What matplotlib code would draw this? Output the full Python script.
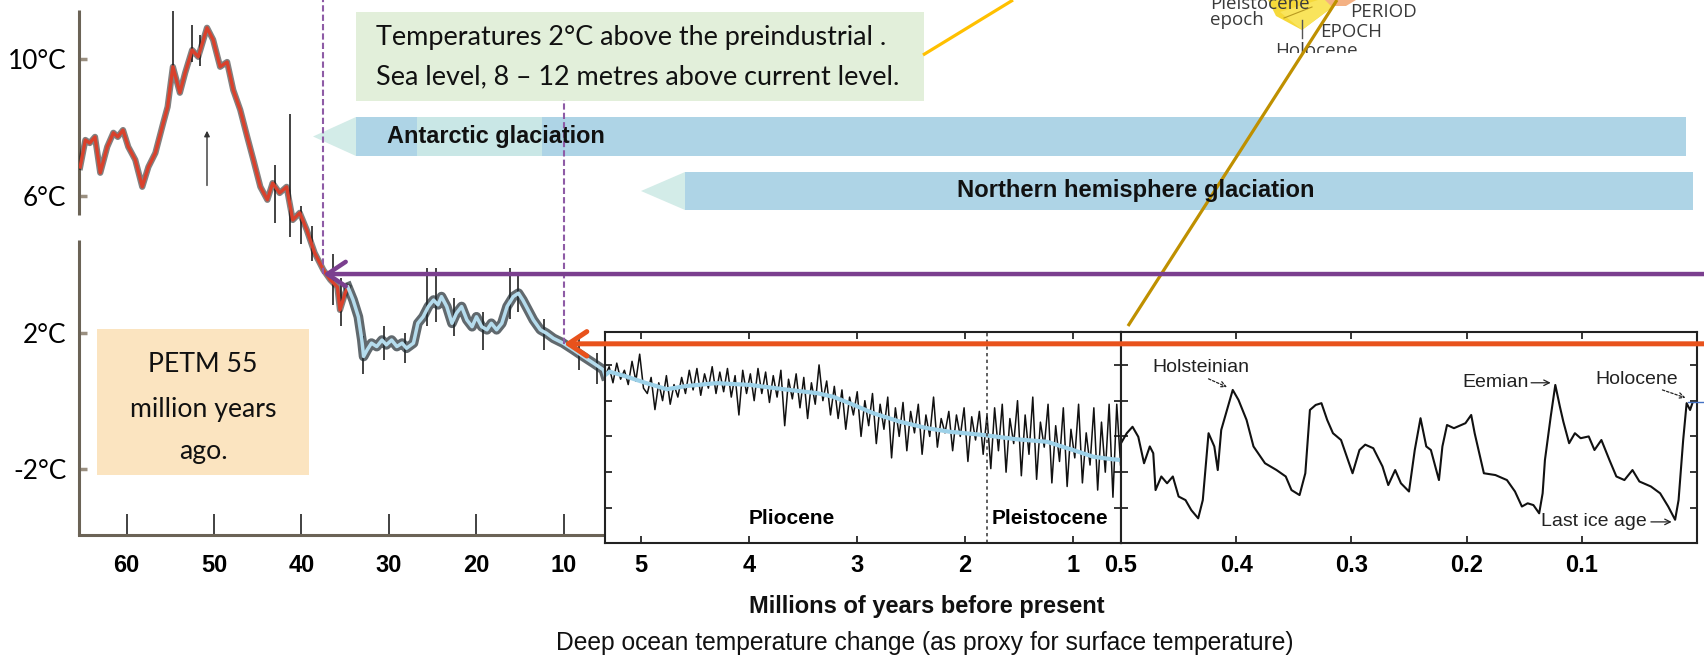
import numpy as np
import matplotlib
matplotlib.use('Agg')
import matplotlib.pyplot as plt
from matplotlib.patches import Rectangle, Polygon
from matplotlib.transforms import blended_transform_factory as blend

W, H = 1704, 663

# ---- values ----
# Cenozoic record, 65 -> 35 Ma (red part), deg C
red_ma = [65.3, 64.7, 64.2, 63.6, 63.0, 62.2, 61.5, 61.0, 60.4, 59.8, 59.0, 58.2, 57.5, 56.7, 55.8,
          55.3, 54.7, 53.9, 53.3, 52.5, 51.8, 50.8, 50.1, 49.3, 48.5, 47.8, 47.0, 46.2, 45.5, 44.7,
          43.9, 43.3, 42.5, 41.7, 41.0, 40.2, 39.4, 38.5, 37.5, 36.7, 35.9, 35.6, 35.0, 34.7]
red_t = [6.84, 7.63, 7.54, 7.72, 6.67, 7.43, 7.84, 7.72, 7.92, 7.43, 7.05, 6.26, 6.84, 7.25, 8.13,
         8.60, 9.77, 9.01, 9.59, 10.26, 10.06, 10.91, 10.56, 9.77, 9.91, 9.09, 8.51, 7.72, 7.05, 6.26,
         5.88, 6.37, 6.08, 6.26, 5.29, 5.50, 5.00, 4.33, 3.83, 3.54, 3.33, 2.66, 3.16, 3.33]
# 35 -> 5 Ma (light blue part)
blue_ma = [34.7, 34.1, 33.5, 33.1, 32.9, 32.5, 32.0, 31.4, 30.8, 30.3, 29.7, 29.1, 28.5, 28.0, 27.2,
           26.7, 26.1, 25.5, 24.9, 24.4, 24.0, 23.4, 22.8, 22.3, 21.7, 21.1, 20.5, 20.0, 19.4, 18.8,
           18.3, 17.7, 17.1, 16.5, 15.8, 15.2, 14.7, 14.1, 13.5, 12.7, 12.0, 11.2, 10.1, 8.9, 7.8,
           6.6, 5.5, 5.3]
blue_t = [3.33, 2.95, 2.46, 1.78, 1.30, 1.49, 1.69, 1.59, 1.78, 1.64, 1.78, 1.59, 1.69, 1.54, 1.69,
          2.27, 2.46, 2.76, 2.95, 2.81, 3.05, 2.76, 2.27, 2.56, 2.76, 2.37, 2.17, 2.46, 2.17, 2.08,
          2.27, 2.08, 2.27, 2.76, 3.05, 3.15, 2.95, 2.66, 2.37, 2.08, 1.98, 1.83, 1.69, 1.49, 1.30,
          1.10, 0.91, 0.75]
# black spikes of the noisy record
spike_ma = [54.7, 52.5, 51.6, 43.0, 41.3, 40.0, 38.8, 36.4, 35.5, 33.0, 30.6, 28.2, 25.6, 24.6,
            22.6, 19.2, 16.2, 15.3, 12.3, 8.3, 6.2]
spike_lo = [9.8, 9.9, 9.8, 5.2, 4.8, 4.6, 4.1, 2.8, 2.2, 0.8, 1.2, 1.1, 2.2, 2.3,
            1.9, 1.5, 2.4, 2.6, 1.5, 0.9, 0.5]
spike_hi = [11.4, 11.0, 10.7, 6.9, 8.4, 5.7, 5.1, 4.3, 3.6, 1.9, 2.2, 2.0, 3.9, 3.9,
            3.0, 2.6, 3.9, 3.7, 2.4, 1.8, 1.4]

main_ticks = [60, 50, 40, 30, 20, 10]
temp_ticks = [10, 6, 2, -2]
temp_labels = ['10°C', '6°C', '2°C', '-2°C']

# Pliocene / Pleistocene panel (5.3 -> 0.56 Ma), noisy record and smooth fit
mid_noise = [3.7, 3.95, 3.5, 4.05, 3.6, 3.85, 3.45, 4.1, 3.55, 4.3, 3.35,
             3.2, 3.65, 2.75, 3.5, 3.0, 3.7, 2.9, 3.45, 3.1, 3.65,
             3.2, 3.85, 3.3, 3.9, 3.15, 3.75, 3.35, 3.95, 3.2, 3.8,
             3.25, 3.9, 3.1, 3.7, 2.6, 3.85, 3.2, 3.75, 3.0, 3.9,
             3.2, 3.8, 2.95, 3.7, 3.1, 3.85, 2.3, 3.6, 3.05, 3.75,
             2.8, 3.65, 2.5, 3.5, 2.9, 4.0, 3.0, 3.55, 2.6, 3.4,
             2.5, 3.3, 2.2, 3.1, 2.6, 3.25, 2.0, 3.0, 2.3, 3.2,
             1.8, 2.9, 2.2, 3.1, 1.4, 2.8, 2.0, 2.95, 1.6, 2.7,
             2.1, 2.9, 1.5, 2.6, 2.0, 3.1, 1.7, 2.5, 2.1, 2.7,
             1.6, 2.6, 2.0, 2.8, 1.3, 2.55, 1.9, 2.7, 1.5, 2.6,
             1.1, 2.8, 1.6, 2.9, 1.0, 2.5, 1.8, 3.0, 0.9, 2.6,
             1.5, 3.1, 0.8, 2.4, 1.7, 2.9, 0.7, 2.3, 1.3, 2.8,
             0.6, 2.2, 1.4, 2.9, 0.7, 2.1, 1.2, 2.8, 0.5, 2.4,
             1.0, 2.9, 0.3, 2.9, 1.2]
mid_noise_start, mid_noise_end = 5.33, 0.56
mid_ma = [5.33, 5.29, 5.13, 4.95, 4.76, 4.58, 4.30, 3.99, 3.68, 3.37, 3.22, 3.03, 2.85, 2.60,
          2.35, 2.14, 1.83, 1.52, 1.24, 1.00, 0.81, 0.63, 0.556]
mid_smooth = [3.72, 3.81, 3.67, 3.49, 3.32, 3.41, 3.49, 3.44, 3.32, 3.21, 3.11, 2.88, 2.65, 2.41,
              2.23, 2.13, 2.04, 1.92, 1.85, 1.62, 1.43, 1.36, 1.34]
mid_ticks = [5, 4, 3, 2, 1]
epoch_boundary = 1.8

# last 500 000 years panel
rt_ma = [0.500, 0.495, 0.490, 0.485, 0.480, 0.475, 0.472, 0.470, 0.465, 0.460,
         0.455, 0.450, 0.444, 0.439, 0.433, 0.429, 0.424, 0.419, 0.416, 0.413,
         0.408, 0.403, 0.398, 0.391, 0.385, 0.375, 0.365, 0.357, 0.352, 0.345,
         0.340, 0.336, 0.331, 0.326, 0.321, 0.316, 0.309, 0.299, 0.293, 0.288,
         0.281, 0.273, 0.268, 0.262, 0.257, 0.250, 0.245, 0.240, 0.235, 0.231,
         0.224, 0.221, 0.217, 0.211, 0.201, 0.196, 0.193, 0.185, 0.175, 0.165,
         0.158, 0.152, 0.147, 0.142, 0.137, 0.134, 0.132, 0.127, 0.123, 0.119,
         0.116, 0.111, 0.106, 0.101, 0.094, 0.089, 0.083, 0.076, 0.070, 0.063,
         0.056, 0.050, 0.040, 0.032, 0.025, 0.019, 0.016, 0.012, 0.009, 0.006, 0.004]
rt_v = [1.81, 2.09, 2.27, 1.99, 1.25, 1.72, 1.53, 0.50, 0.88, 0.69,
        0.88, 0.32, 0.22, -0.06, -0.29, 0.22, 2.09, 1.72, 1.06, 2.18,
        2.74, 3.30, 3.02, 2.46, 1.72, 1.25, 1.06, 0.88, 0.50, 0.36,
        0.97, 2.74, 2.88, 2.93, 2.46, 2.09, 1.90, 0.97, 1.62, 1.77,
        1.67, 1.16, 0.64, 1.06, 0.69, 0.46, 1.62, 2.51, 1.72, 1.62,
        0.78, 1.72, 2.32, 2.23, 2.37, 2.60, 2.09, 0.97, 0.92, 0.78,
        0.46, 0.04, 0.13, 0.08, -0.15, 0.41, 1.34, 2.55, 3.44, 2.83,
        2.41, 1.81, 2.09, 1.95, 2.00, 1.62, 1.90, 1.34, 0.88, 0.78,
        1.06, 0.74, 0.60, 0.41, 0.04, -0.33, 0.22, 1.90, 2.93, 2.74, 2.93]
rt_ticks = [0.5, 0.4, 0.3, 0.2, 0.1]

# marked points: ~2 degC warmer world, and the start of Antarctic glaciation
purple_ma, purple_t = 37.5, 3.71
orange_ma, orange_t = 10.0, 1.67

SANS = 'Liberation Sans'
CAL = 'Lato'

fig = plt.figure(figsize=(W / 100, H / 100), dpi=100)
r = fig.canvas.get_renderer()


def px_box(x0, y0, x1, y1):
    # pixel box (top-left origin) -> figure fraction
    return [x0 / W, 1 - y1 / H, (x1 - x0) / W, (y1 - y0) / H]


def fit(t, w):
    t.set_fontsize(t.get_fontsize() * w / t.get_window_extent(r).width)
    return t


# ---------------- main panel (65 -> 5 Ma) ----------------
ax = fig.add_axes(px_box(79, 10, 605, 535))
ax.set_xlim(65.43, 5.31)
ax.set_ylim(-3.92, 11.43)
for s in ('top', 'right', 'left'):
    ax.spines[s].set_visible(False)
ax.spines['bottom'].set_color('#6b6356')
ax.spines['bottom'].set_linewidth(2.2)
# left axis is broken between ~4.7 and ~5.4 degC
for lo, hi in [(-3.92, 4.71), (5.44, 11.43)]:
    ax.plot([0, 0], [lo, hi], transform=ax.get_yaxis_transform(), color='#6b6356',
            lw=2.2, clip_on=False, solid_capstyle='butt')

ax.set_xticks(main_ticks)
ax.set_xticklabels([str(t) for t in main_ticks], family=SANS, fontweight='bold', fontsize=17)
ax.tick_params(axis='x', direction='in', length=15, width=1.3, color='#333333', pad=14)

tmp = fig.text(0, 0, '10°C', family=CAL, fontsize=20)
ysize = fit(tmp, 59).get_fontsize()
tmp.remove()
ax.set_yticks(temp_ticks)
ax.set_yticklabels(temp_labels, family=CAL, fontsize=ysize)
ax.tick_params(axis='y', direction='in', length=6, width=2.5, color='#9a8f80', pad=9)

ax.vlines(spike_ma, spike_lo, spike_hi, color='#222222', lw=1.2, zorder=1)
ax.plot(red_ma, red_t, color='#1a1a1a', lw=4.5, alpha=0.55, zorder=2)
ax.plot(red_ma, red_t, color='#d9412c', lw=2.4, zorder=3)
ax.plot(blue_ma, blue_t, color='#1e2a30', lw=7, alpha=0.7, zorder=2, solid_joinstyle='round')
ax.plot(blue_ma, blue_t, color='#b5dced', lw=2.5, zorder=3)
ax.annotate('', xy=(50.8, 7.9), xytext=(50.8, 6.3),
            arrowprops=dict(arrowstyle='-|>', color='#333333', lw=1, shrinkA=0, shrinkB=0,
                            mutation_scale=8))

# ---------------- inset panels ----------------
def style_inset(a, ticks):
    for s in a.spines.values():
        s.set_color('#222222')
        s.set_linewidth(1.5)
    a.set_ylim(-0.98, 4.92)
    a.set_yticks([0, 1, 2, 3, 4])
    a.set_xticks(ticks)
    a.set_xticklabels([str(t) for t in ticks], family=SANS, fontweight='bold', fontsize=17)
    a.tick_params(direction='in', top=True, right=True, length=5, width=1.1,
                  pad=8, labelleft=False)


ax_mid = fig.add_axes(px_box(605, 332, 1121, 543))
ax_mid.set_xlim(5.333, 0.556)
style_inset(ax_mid, mid_ticks)
noise_ma = np.linspace(mid_noise_start, mid_noise_end, len(mid_noise))
ax_mid.plot(noise_ma, mid_noise, color='#111111', lw=1.1)
ax_mid.plot(mid_ma, mid_smooth, color='#9dd1e8', lw=3)
ax_mid.axvline(epoch_boundary, ls=(0, (2, 2)), color='#444444', lw=1.2)
ax_mid.text(4.0, -0.3, 'Pliocene', ha='left', va='center', fontweight='bold', fontsize=15,
            family=SANS)
ax_mid.text(1.75, -0.3, 'Pleistocene', ha='left', va='center', fontweight='bold', fontsize=15,
            family=SANS)

ax_rt = fig.add_axes(px_box(1121, 332, 1697, 543))
ax_rt.set_xlim(0.5, 0.0)
style_inset(ax_rt, rt_ticks)
ax_rt.plot(rt_ma, rt_v, color='#111111', lw=1.5)

notes = dict(fontsize=14, family=SANS, color='#222222')
ax_rt.text(0.473, 3.92, 'Holsteinian', ha='left', va='center', **notes)
ax_rt.annotate('', xy=(0.408, 3.38), xytext=(0.424, 3.61),
               arrowprops=dict(arrowstyle='->', ls=(0, (2, 1.5)), lw=0.9, color='#222222',
                               shrinkA=0, shrinkB=0))
ax_rt.text(0.146, 3.50, 'Eemian', ha='right', va='center', **notes)
ax_rt.annotate('', xy=(0.127, 3.50), xytext=(0.144, 3.50),
               arrowprops=dict(arrowstyle='->', lw=0.9, color='#222222', shrinkA=0, shrinkB=0))
ax_rt.text(0.088, 3.58, 'Holocene', ha='left', va='center', **notes)
ax_rt.annotate('', xy=(0.010, 3.08), xytext=(0.030, 3.30),
               arrowprops=dict(arrowstyle='->', ls=(0, (2, 1.5)), lw=0.9, color='#222222',
                               shrinkA=0, shrinkB=0))
ax_rt.text(0.135, -0.39, 'Last ice age', ha='left', va='center', **notes)
ax_rt.annotate('', xy=(0.022, -0.39), xytext=(0.040, -0.39),
               arrowprops=dict(arrowstyle='->', lw=0.9, color='#222222', shrinkA=0, shrinkB=0))

# ---------------- overlay: boxes, bars, arrows ----------------
ov = fig.add_axes([0, 0, 1, 1])
ov.set_xlim(0, W)
ov.set_ylim(H, 0)
ov.set_axis_off()
ov.patch.set_visible(False)
ov.set_zorder(10)

# glaciation bars
ov.add_patch(Polygon([(313, 136.5), (356, 117), (356, 156)], fc='#d3ece8', ec='none'))
ov.add_patch(Rectangle((356, 117), 1686 - 356, 39, fc='#aed4e6', ec='none'))
ov.add_patch(Rectangle((417, 117), 125, 39, fc='#c9e7e6', ec='none'))
ov.add_patch(Polygon([(641, 191), (685, 172), (685, 210)], fc='#d3ece8', ec='none'))
ov.add_patch(Rectangle((685, 172), 1693 - 685, 38, fc='#aed4e6', ec='none'))
fit(ov.text(387, 137, 'Antarctic glaciation', ha='left', va='center', fontweight='bold',
            family=SANS, fontsize=14, color='#111111'), 219)
fit(ov.text(1136, 191, 'Northern hemisphere glaciation', ha='center', va='center',
            fontweight='bold', family=SANS, fontsize=14, color='#111111'), 359)

# green note
ov.add_patch(Rectangle((356, 12), 924 - 356, 89, fc='#e2efda', ec='none'))
l2 = fit(ov.text(376, 77, 'Sea level, 8 – 12 metres above current level.', ha='left',
                 va='center', family=CAL, fontsize=17, color='#111111'), 525)
ov.text(376, 38, 'Temperatures 2°C above the preindustrial .', ha='left', va='center',
        family=CAL, fontsize=l2.get_fontsize(), color='#111111')

# PETM note
ov.add_patch(Rectangle((97, 329), 212, 146, fc='#fbe4c0', ec='none'))
m = fit(ov.text(203, 409, 'million years', ha='center', va='center', family=CAL, fontsize=18,
                color='#111111'), 146)
ov.text(203, 365, 'PETM 55', ha='center', va='center', family=CAL, fontsize=m.get_fontsize(),
        color='#111111')
ov.text(203, 452, 'ago.', ha='center', va='center', family=CAL, fontsize=m.get_fontsize(),
        color='#111111')

# connector lines
ov.plot([923, 1013], [55, 0], color='#ffc000', lw=2.3, solid_capstyle='butt')
ov.plot([1128, 1337], [326, 0], color='#bf9000', lw=2.3, solid_capstyle='butt')
ov.plot([1688, 1704], [402, 402], color='#4472c4', lw=1)

# dashed markers and arrows, tied to the main panel data
ov.plot([purple_ma, purple_ma], [purple_t, 11.8], transform=ax.transData, color='#8e5ba6',
        lw=1.5, ls=(0, (3, 1.5)))
ov.plot([orange_ma, orange_ma], [orange_t, 8.8], transform=ax.transData, color='#8e5ba6',
        lw=1.5, ls=(0, (3, 1.5)))
edge = blend(fig.transFigure, ax.transData)
ov.annotate('', xy=(purple_ma, purple_t), xycoords=ax.transData, xytext=(1.0, purple_t),
            textcoords=edge, annotation_clip=False,
            arrowprops=dict(arrowstyle='->,head_length=0.6,head_width=0.4', color='#7b3f8f',
                            lw=3.2, shrinkA=0, shrinkB=0, mutation_scale=22))
ov.annotate('', xy=(orange_ma, orange_t), xycoords=ax.transData, xytext=(1.0, orange_t),
            textcoords=edge, annotation_clip=False,
            arrowprops=dict(arrowstyle='->,head_length=0.6,head_width=0.4', color='#e8521c',
                            lw=3.6, shrinkA=0, shrinkB=0, mutation_scale=22))

# axis captions
fit(ov.text(927, 606, 'Millions of years before present', ha='center', va='center',
            fontweight='bold', family=SANS, fontsize=15, color='#111111'), 359)
fit(ov.text(925, 643, 'Deep ocean temperature change (as proxy for surface temperature)',
            ha='center', va='center', family=SANS, fontsize=16, color='#111111'), 740)

# ---------------- cut-out of the geological time chart (top right) ----------------
geo = fig.add_axes(px_box(1150, 0, 1470, 53))
geo.set_xlim(1150, 1470)
geo.set_ylim(53, 0)
geo.set_axis_off()
geo.set_zorder(9)
geo.add_patch(Polygon([(1268, 0), (1342, 0), (1302, 30), (1276, 16)], fc='#f6d93a', ec='none'))
geo.add_patch(Polygon([(1280, 12), (1318, 0), (1342, 0), (1302, 30)], fc='#f9e45c', ec='none'))
geo.add_patch(Polygon([(1325, 0), (1356, 0), (1346, 6), (1331, 6)], fc='#f4b183', ec='none'))
geo.plot([1284, 1312], [18, 7], color='#b89a20', lw=0.8)
geo.plot([1302, 1302], [20, 38], color='#555555', lw=1)
gt = dict(family='Open Sans', fontsize=13.5, color='#3a3a3a', clip_on=True, va='center',
          ha='left')
geo.text(1210, 4, 'Pleistocene', **gt)
geo.text(1210, 20, 'epoch', **gt)
geo.text(1350, 12, 'PERIOD', **gt)
geo.text(1320, 32, 'EPOCH', **gt)
geo.text(1275, 51, 'Holocene', **gt)

fig.savefig('out.png', dpi=100, facecolor='white')
